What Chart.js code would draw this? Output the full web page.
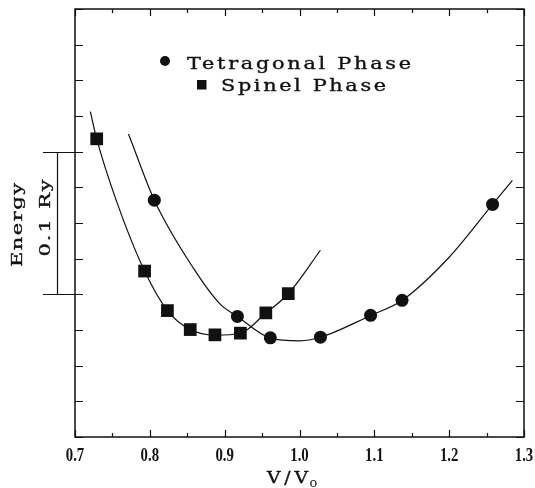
<!DOCTYPE html>
<html>
<head>
<meta charset="utf-8">
<script src="https://cdn.jsdelivr.net/npm/chart.js@4.4.1/dist/chart.umd.min.js"></script>
<style>
  html, body { margin: 0; padding: 0; background: #fff; }
  #wrap { width: 535px; height: 488px; }
</style>
</head>
<body>
<div id="wrap"><canvas id="chart" width="535" height="488"></canvas></div>
<script>
// series names
const seriesNames = ["Tetragonal Phase", "Spinel Phase"];

// computed points (V/V0, energy in Ry above an arbitrary zero)
const tetraX = [0.806, 0.917, 0.961, 1.028, 1.095, 1.137, 1.258];
const tetraE = [0.166, 0.0845, 0.0695, 0.0700, 0.0853, 0.0958, 0.163];
const spinelX = [0.729, 0.793, 0.8235, 0.854, 0.887, 0.921, 0.955, 0.985];
const spinelE = [0.209, 0.1163, 0.0886, 0.0753, 0.0716, 0.0728, 0.0870, 0.1005];

// fitted curves
const tetraCurveX = [0.7715, 0.806, 0.858, 0.894, 0.917, 0.961, 1.0, 1.028, 1.095, 1.137, 1.2, 1.258, 1.2845];
const tetraCurveE = [0.2124, 0.166, 0.1185, 0.0931, 0.0845, 0.0693, 0.0674, 0.0699, 0.0852, 0.0957, 0.126, 0.163, 0.1798];
const spinelCurveX = [0.7205, 0.729, 0.7557, 0.793, 0.8235, 0.854, 0.887, 0.921, 0.955, 0.985, 1.028];
const spinelCurveE = [0.228, 0.209, 0.165, 0.1163, 0.0886, 0.0753, 0.0714, 0.0727, 0.0869, 0.1004, 0.1309];

// axes
const xTicks = [0.7, 0.8, 0.9, 1.0, 1.1, 1.2, 1.3];
const xTickLabels = ["0.7", "0.8", "0.9", "1.0", "1.1", "1.2", "1.3"];
const xMinorTicks = [0.75, 0.85, 0.95, 1.05, 1.15, 1.25];
const yTicks = [0, 0.025, 0.05, 0.075, 0.1, 0.125, 0.15, 0.175, 0.2, 0.225, 0.25, 0.275, 0.3];
const scaleBar = [0.1, 0.2]; // 0.1 Ry
const yLabel = "Energy";
const scaleBarLabel = "0.1 Ry";

const pts = (xs, ys) => xs.map((x, i) => ({ x: x, y: ys[i] }));

// draw text widened by `stretch` and spaced out to fill `width`, starting at x
function fitText(ctx, text, x, y, width, stretch) {
  ctx.letterSpacing = "0px";
  const w = ctx.measureText(text).width;
  const sp = (width - w * stretch) / (text.length - 1) / stretch;
  ctx.save();
  ctx.translate(x, y);
  ctx.scale(stretch, 1);
  ctx.letterSpacing = Math.max(sp, 0) + "px";
  ctx.fillText(text, 0, 0);
  ctx.lineWidth = 0.35;
  ctx.strokeText(text, 0, 0);
  ctx.restore();
}

const frame = {
  id: "frame",
  afterDraw(chart) {
    const ctx = chart.ctx;
    const xs = chart.scales.x, ys = chart.scales.y;
    const a = chart.chartArea;
    ctx.save();
    ctx.strokeStyle = "#111";
    ctx.fillStyle = "#111";
    ctx.lineWidth = 1.5;
    ctx.strokeRect(a.left, a.top, a.right - a.left, a.bottom - a.top);

    // inward ticks
    ctx.lineWidth = 1.2;
    ctx.beginPath();
    xTicks.forEach(v => {
      const px = Math.round(xs.getPixelForValue(v)) + 0.5;
      ctx.moveTo(px, a.bottom); ctx.lineTo(px, a.bottom - 7);
      ctx.moveTo(px, a.top); ctx.lineTo(px, a.top + 7);
    });
    xMinorTicks.forEach(v => {
      const px = Math.round(xs.getPixelForValue(v)) + 0.5;
      ctx.moveTo(px, a.bottom); ctx.lineTo(px, a.bottom - 4);
      ctx.moveTo(px, a.top); ctx.lineTo(px, a.top + 4);
    });
    yTicks.forEach(v => {
      const py = Math.round(ys.getPixelForValue(v)) + 0.5;
      ctx.moveTo(a.left, py); ctx.lineTo(a.left + 8, py);
      ctx.moveTo(a.right, py); ctx.lineTo(a.right - 8, py);
    });
    // scale bar
    const b0 = Math.round(ys.getPixelForValue(scaleBar[0])) + 0.5;
    const b1 = Math.round(ys.getPixelForValue(scaleBar[1])) + 0.5;
    ctx.moveTo(57.5, b0); ctx.lineTo(57.5, b1);
    ctx.moveTo(43, b0); ctx.lineTo(a.left, b0);
    ctx.moveTo(43, b1); ctx.lineTo(a.left, b1);
    ctx.stroke();

    // x tick labels (narrow, heavy digits)
    ctx.font = 'bold 18px "Liberation Serif"';
    ctx.textBaseline = "middle";
    ctx.textAlign = "center";
    xTicks.forEach((v, i) => {
      ctx.save();
      ctx.translate(xs.getPixelForValue(v), 456);
      ctx.scale(0.82, 1);
      ctx.fillText(xTickLabels[i], 0, 0);
      ctx.restore();
    });

    // x title V/Vo
    ctx.textAlign = "left";
    ctx.textBaseline = "alphabetic";
    ctx.font = '17px "DejaVu Serif"';
    fitText(ctx, "V/V", 267, 483, 41, 1.1);
    ctx.font = '13px "DejaVu Serif"';
    ctx.fillText("o", 309.5, 487);

    // y label and scale bar label
    ctx.font = '15px "DejaVu Serif"';
    ctx.textBaseline = "middle";
    ctx.save();
    ctx.translate(18.5, 225);
    ctx.rotate(-Math.PI / 2);
    fitText(ctx, yLabel, -42, 0, 84, 1.4);
    ctx.restore();
    ctx.save();
    ctx.translate(46, 218);
    ctx.rotate(-Math.PI / 2);
    fitText(ctx, scaleBarLabel, -38.5, 0, 77, 1.4);
    ctx.restore();

    // legend
    ctx.beginPath();
    ctx.arc(165, 61, 5, 0, Math.PI * 2);
    ctx.fill();
    ctx.fillRect(197, 80, 9.5, 9.5);
    ctx.font = '16px "DejaVu Serif"';
    ctx.textBaseline = "alphabetic";
    fitText(ctx, seriesNames[0], 187, 68.5, 224, 1.3);
    fitText(ctx, seriesNames[1], 221, 91, 165, 1.3);
    ctx.restore();
  }
};

const curveStyle = {
  showLine: true, pointRadius: 0, borderColor: "#111", borderWidth: 1.2,
  cubicInterpolationMode: "monotone", fill: false
};

new Chart(document.getElementById("chart"), {
  type: "scatter",
  data: {
    datasets: [
      Object.assign({ label: seriesNames[0] + " fit", data: pts(tetraCurveX, tetraCurveE) }, curveStyle),
      Object.assign({ label: seriesNames[1] + " fit", data: pts(spinelCurveX, spinelCurveE) }, curveStyle),
      {
        label: seriesNames[0], data: pts(tetraX, tetraE),
        pointStyle: "circle", pointRadius: 6.5, backgroundColor: "#111", borderColor: "#111", borderWidth: 0
      },
      {
        label: seriesNames[1], data: pts(spinelX, spinelE),
        pointStyle: "rect", pointRadius: 9, backgroundColor: "#111", borderColor: "#111", borderWidth: 0
      }
    ]
  },
  options: {
    responsive: false,
    animation: false,
    devicePixelRatio: 1,
    layout: { padding: { left: 75, right: 11, top: 6, bottom: 51 } },
    plugins: { legend: { display: false }, tooltip: { enabled: false } },
    scales: {
      x: { type: "linear", min: 0.7, max: 1.3, display: false },
      y: { type: "linear", min: 0, max: 0.3, display: false }
    }
  },
  plugins: [frame]
});
</script>
</body>
</html>
